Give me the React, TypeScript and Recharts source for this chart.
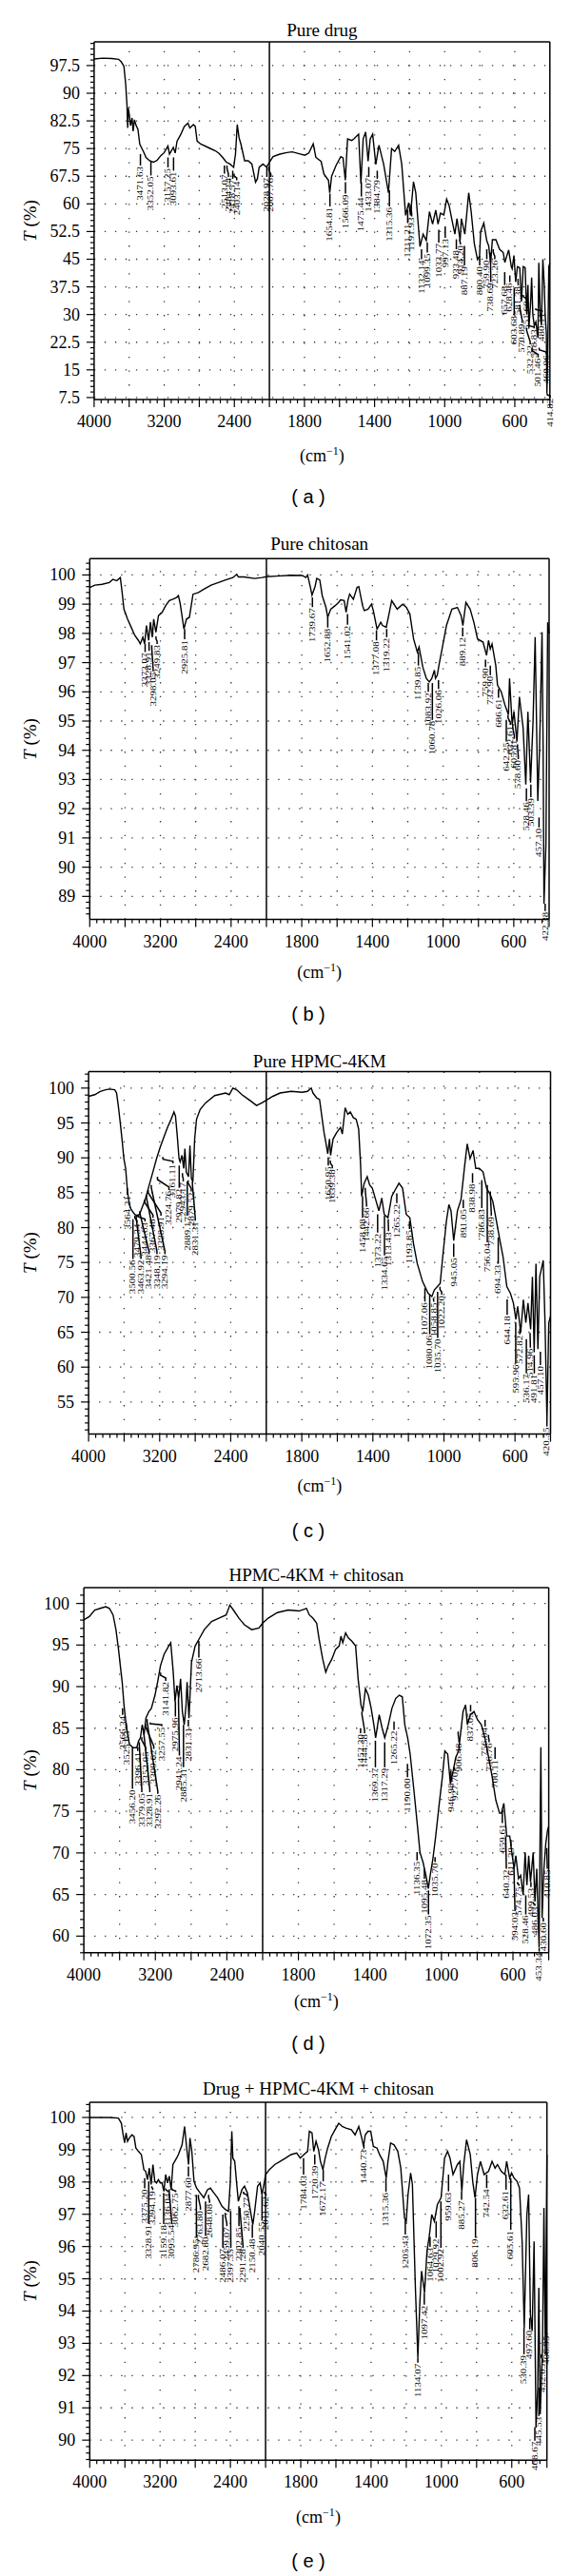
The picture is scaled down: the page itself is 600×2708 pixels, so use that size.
import React from 'react';
import { ComposedChart, Line, ReferenceLine, Scatter, XAxis, YAxis } from 'recharts';

type Pt = [number, number];
type Peak = [number, number, number];

// [wavenumber cm-1, transmittance %]
const drugSpectrum: Pt[] = [
  [4000, 99.3], [3900, 99.5], [3800, 99.4], [3720, 99.2], [3690, 98.5], [3660, 97.3], [3640, 92.5], [3625, 86.8],
  [3617, 80.6], [3610, 86], [3596, 83.7], [3585, 81.2], [3567, 83.3], [3555, 79.7], [3540, 82.8], [3520, 81.2],
  [3500, 80.2], [3479, 76.2], [3450, 74.8], [3430, 73.8], [3408, 72.6], [3367, 71.7], [3325, 71.3], [3283, 71.8],
  [3242, 73], [3200, 73.9], [3158, 75.7], [3140, 73.5], [3096, 75.3], [3075, 73.8], [3054, 77], [3012, 78.8],
  [2971, 81], [2929, 81.9], [2908, 80.6], [2867, 81.5], [2846, 81], [2825, 77], [2783, 76.2], [2700, 75.3],
  [2617, 74.4], [2575, 73.7], [2533, 72.6], [2492, 71.3], [2450, 70.8], [2408, 69.9], [2387, 73.5], [2367, 81.5],
  [2346, 77.9], [2325, 76.2], [2283, 71.7], [2242, 71.7], [2200, 70.8], [2158, 65.9], [2137, 66.8], [2117, 69.9],
  [2075, 70.8], [2033, 70], [2000, 71.3],
  [1979, 72.8], [1940, 73.5], [1900, 73.9], [1870, 74.1], [1830, 73.6], [1798, 73.2], [1775, 73.8], [1750, 76.3],
  [1735, 72.6], [1705, 71.5], [1689, 68.1], [1663, 66.4], [1656, 63], [1645, 67.5], [1620, 70.4], [1593, 72.8],
  [1580, 72.5], [1567, 66.4], [1554, 77.6], [1530, 77.2], [1518, 77.6], [1491, 78.9], [1478, 65.5], [1465, 77.6],
  [1451, 79.5], [1437, 71.6], [1425, 77.6], [1411, 78.9], [1393, 70.7], [1375, 75.9], [1348, 70.7], [1321, 63],
  [1303, 75], [1285, 74.2], [1263, 75.9], [1245, 70.7], [1223, 56.9], [1205, 60.3], [1195, 56.9], [1178, 66],
  [1165, 63], [1141, 48.4], [1123, 51.8], [1105, 50.1], [1087, 57.9], [1069, 54.5], [1051, 58.3], [1038, 54.5],
  [1024, 57.5], [1005, 57], [989, 61.3], [975, 59.6], [957, 55.3], [942, 51.8], [930, 56], [912, 50.1],
  [905, 56], [885, 51.8], [863, 63], [849, 57.9], [831, 49.2], [813, 44.9], [801, 45.9], [795, 52.5],
  [777, 54.8], [760, 50], [749, 48.6], [738, 44], [728, 50.3], [708, 50.3], [687, 47.7], [666, 46.8],
  [657, 44.1], [645, 46], [635, 47.5], [620, 43], [615, 42.4], [605, 46], [595, 38.8], [585, 43],
  [572, 42.7], [562, 33.5], [552, 43], [541, 42.7], [532, 30], [525, 38], [520, 26.4], [510, 33],
  [504, 40], [497, 30], [489, 27], [480, 28], [468, 23.7], [463, 44], [455, 30], [448, 27],
  [440, 45], [432, 38], [427, 30], [420, 25], [417, 8.6], [412, 20], [406, 43], [400, 44],
];

const chitosanSpectrum: Pt[] = [
  [4000, 99.57], [3942, 99.65], [3860, 99.68], [3778, 99.74], [3737, 99.85], [3695, 99.8], [3654, 99.91], [3633, 99.4],
  [3613, 98.83], [3572, 98.49], [3531, 98.21], [3490, 97.93], [3449, 97.76], [3428, 97.64], [3399, 97.87], [3379, 97.64],
  [3358, 98.27], [3333, 97.76], [3313, 98.38], [3292, 97.87], [3276, 98.49], [3251, 98.04], [3222, 98.61], [3181, 98.72],
  [3140, 98.95], [3099, 99.12], [3058, 99.17], [3017, 99.23], [2996, 99.29], [2975, 99.0], [2934, 98.15], [2905, 98.49],
  [2872, 98.55], [2831, 99.34], [2770, 99.4], [2708, 99.51], [2626, 99.65], [2543, 99.74], [2461, 99.83], [2379, 99.91],
  [2337, 100.02], [2316, 99.93], [2255, 99.93], [2132, 99.88], [2049, 99.91], [2000, 99.94],
  [1942, 99.96], [1859, 99.99], [1797, 99.98], [1777, 99.91], [1767, 100.0], [1752, 99.6], [1742, 99.31], [1725, 99.6],
  [1715, 99.88], [1698, 99.83], [1684, 99.29], [1663, 98.89], [1653, 98.55], [1636, 98.83], [1611, 98.95], [1591, 99.06],
  [1580, 99.15], [1560, 99.12], [1549, 98.72], [1539, 99.12], [1529, 99.34], [1508, 99.17], [1487, 99.57], [1477, 99.6],
  [1456, 98.95], [1446, 98.78], [1425, 98.83], [1405, 99.0], [1395, 98.78], [1374, 98.15], [1353, 98.38], [1343, 98.27],
  [1322, 98.21], [1312, 98.49], [1291, 99.12], [1260, 98.83], [1229, 99.0], [1208, 98.89], [1188, 98.66], [1167, 97.81],
  [1146, 97.36], [1136, 97.53], [1115, 96.85], [1095, 96.46], [1078, 96.34], [1064, 96.46], [1049, 96.74], [1043, 96.46],
  [1033, 96.57], [1022, 96.96], [1002, 97.59], [981, 98.27], [950, 98.83], [919, 98.89], [898, 98.61], [888, 98.27],
  [871, 99.06], [847, 98.83], [826, 98.38], [805, 97.81], [774, 97.7], [754, 97.25], [743, 97.76], [733, 97.47],
  [723, 97.64], [702, 96.91], [692, 96.23], [671, 96.0], [650, 95.55], [630, 95.21], [624, 96.46], [609, 94.87],
  [599, 95.32], [582, 94.3], [568, 95.83], [547, 94.76], [532, 92.83], [520, 95.32], [505, 92.89], [491, 94.98],
  [479, 97.87], [464, 92.27], [454, 94.08], [440, 98.04], [434, 94.19], [429, 88.75], [418, 90.79], [408, 98.38],
  [400, 98.0],
];

const hpmcSpectrum: Pt[] = [
  [4000, 98.82], [3930, 99.06], [3869, 99.53], [3808, 99.76], [3767, 99.86], [3706, 99.76], [3685, 99.29], [3665, 97.41],
  [3644, 95.06], [3624, 92.71], [3603, 89.89], [3583, 88.48], [3562, 85.18], [3542, 83.3], [3521, 82.6], [3481, 81.89],
  [3440, 81.65], [3420, 82.13], [3399, 82.83], [3358, 84.24], [3337, 85.18], [3317, 86.12], [3276, 88.0], [3235, 89.89],
  [3194, 91.53], [3153, 92.94], [3112, 94.36], [3071, 95.53], [3039, 96.57], [3022, 96.0], [3002, 93.18], [2982, 89.89],
  [2970, 89.42], [2949, 90.36], [2929, 88.48], [2916, 91.3], [2900, 87.95], [2875, 87.3], [2859, 91.77], [2843, 87.06],
  [2826, 86.59], [2806, 92.71], [2785, 95.53], [2744, 96.94], [2683, 97.88], [2581, 98.92], [2458, 99.29], [2417, 99.06],
  [2376, 100.0], [2335, 99.76], [2274, 99.06], [2172, 98.12], [2110, 97.51], [2049, 97.88], [2000, 98.26],
  [1963, 98.82], [1922, 99.29], [1860, 99.53], [1798, 99.39], [1768, 99.53], [1747, 100.0], [1737, 99.29], [1716, 98.59],
  [1700, 98.35], [1685, 95.53], [1675, 93.65], [1665, 92.24], [1654, 90.59], [1644, 92.71], [1638, 90.36], [1624, 92.71],
  [1603, 93.65], [1582, 94.36], [1572, 93.41], [1556, 97.18], [1541, 96.24], [1527, 96.57], [1510, 95.76], [1494, 95.53],
  [1480, 94.12], [1469, 88.95], [1463, 84.48], [1449, 86.36], [1432, 87.3], [1418, 86.12], [1403, 85.65], [1387, 84.24],
  [1366, 82.4], [1350, 84.24], [1336, 81.89], [1315, 81.42], [1294, 84.48], [1274, 85.42], [1253, 86.36], [1233, 85.65],
  [1212, 81.89], [1192, 81.42], [1171, 77.66], [1150, 74.83], [1120, 72.25], [1089, 70.6], [1068, 70.13], [1054, 71.07],
  [1037, 71.54], [1021, 72.01], [1007, 75.77], [986, 80.95], [972, 83.3], [960, 82.4], [945, 78.13], [924, 82.4],
  [904, 84.01], [883, 88.95], [869, 92.0], [853, 89.89], [836, 91.06], [821, 88.48], [801, 88.48], [780, 88.0],
  [760, 85.65], [739, 84.71], [725, 83.77], [708, 81.42], [688, 78.6], [667, 75.77], [646, 71.54], [626, 70.6],
  [609, 69.19], [595, 66.84], [585, 68.72], [568, 64.95], [553, 69.66], [539, 66.37], [527, 69.19], [512, 65.42],
  [502, 72.95], [492, 62.13], [482, 74.83], [471, 62.6], [461, 72.95], [441, 75.3], [431, 66.37], [420, 52.25],
  [410, 66.37], [400, 67.31],
];

const blendSpectrum: Pt[] = [
  [4000, 98.03], [3939, 98.42], [3878, 99.21], [3816, 99.41], [3755, 99.61], [3714, 99.41], [3673, 98.62], [3641, 96.85],
  [3612, 94.48], [3592, 92.51], [3571, 90.54], [3551, 87.79], [3531, 85.82], [3510, 84.24], [3490, 83.06], [3449, 82.66],
  [3408, 82.66], [3388, 83.45], [3367, 83.85], [3347, 85.42], [3326, 84.24], [3306, 86.21], [3273, 87.0], [3245, 87.39],
  [3204, 88.97], [3175, 90.54], [3143, 92.51], [3102, 93.89], [3061, 94.68], [3028, 95.27], [3000, 91.73], [2980, 88.18],
  [2959, 90.15], [2939, 88.57], [2918, 90.94], [2898, 87.0], [2877, 85.42], [2857, 87.79], [2845, 90.54], [2824, 86.21],
  [2796, 92.91], [2755, 94.88], [2714, 95.67], [2653, 96.85], [2571, 97.83], [2490, 98.23], [2408, 98.62], [2367, 99.8],
  [2327, 99.21], [2265, 98.23], [2204, 97.44], [2122, 96.85], [2041, 97.04], [2000, 97.64],
  [1969, 98.23], [1918, 98.9], [1857, 99.21], [1796, 99.09], [1755, 99.41], [1739, 98.62], [1719, 98.23], [1698, 97.64],
  [1684, 95.67], [1664, 93.3], [1647, 91.73], [1633, 92.51], [1613, 93.3], [1592, 94.48], [1572, 94.88], [1562, 96.06],
  [1552, 95.27], [1536, 96.45], [1521, 95.86], [1501, 95.47], [1480, 94.88], [1466, 90.94], [1450, 87.79], [1440, 87.0],
  [1425, 89.76], [1409, 88.97], [1393, 87.39], [1378, 85.42], [1368, 83.85], [1348, 86.61], [1332, 85.03], [1317, 83.85],
  [1297, 85.42], [1277, 87.39], [1256, 88.57], [1236, 88.97], [1219, 88.77], [1205, 85.42], [1189, 83.85], [1175, 81.88],
  [1154, 77.54], [1134, 73.21], [1120, 70.06], [1103, 68.87], [1087, 67.3], [1073, 65.72], [1063, 67.3], [1048, 69.27],
  [1032, 72.03], [1012, 75.97], [995, 79.12], [981, 82.27], [965, 81.88], [950, 78.33], [934, 79.91], [920, 81.48],
  [904, 82.27], [879, 87.0], [865, 87.79], [855, 85.42], [838, 86.61], [818, 87.0], [798, 86.01], [777, 85.42],
  [757, 83.85], [736, 81.48], [716, 79.12], [696, 76.36], [675, 74.78], [665, 74.78], [651, 75.97], [635, 72.03],
  [618, 72.03], [604, 69.67], [594, 68.09], [584, 69.67], [569, 66.9], [557, 67.3], [543, 64.93], [532, 70.06],
  [522, 66.12], [512, 69.67], [502, 66.51], [487, 70.06], [477, 64.15], [467, 68.09], [454, 58.63], [444, 82.7],
  [437, 62.18], [427, 68.09], [416, 71.24], [406, 72.81], [400, 73.2],
];

const formulationSpectrum: Pt[] = [
  [4000, 100], [3777, 100], [3674, 99.98], [3640, 99.82], [3620, 99.46], [3603, 99.21], [3587, 99.52], [3570, 99.26],
  [3550, 99.36], [3521, 99.46], [3496, 99.41], [3475, 99.05], [3446, 98.95], [3413, 98.85], [3384, 98.38], [3364, 98.33],
  [3343, 98.07], [3322, 98.43], [3302, 97.92], [3281, 98.54], [3260, 98.02], [3240, 97.97], [3219, 98.07], [3198, 97.97],
  [3178, 97.97], [3157, 97.71], [3136, 98.23], [3116, 97.97], [3095, 98.18], [3074, 97.76], [3054, 98.54], [3012, 98.74],
  [2992, 98.85], [2950, 99.15], [2921, 99.72], [2901, 99.15], [2876, 98.54], [2860, 99.36], [2839, 98.95], [2814, 98.02],
  [2785, 97.81], [2744, 97.66], [2703, 97.51], [2661, 97.76], [2628, 97.81], [2587, 97.66], [2546, 97.51], [2496, 97.25],
  [2455, 97.14], [2422, 97.09], [2401, 98.02], [2384, 99.57], [2372, 98.74], [2351, 98.64], [2331, 98.02], [2310, 97.4],
  [2269, 97.76], [2240, 97.87], [2207, 97.66], [2165, 96.99], [2145, 96.68], [2124, 97.09], [2091, 97.87], [2062, 97.97],
  [2041, 97.61], [2012, 98.02], [2000, 98.23],
  [1979, 98.38], [1948, 98.54], [1917, 98.64], [1886, 98.74], [1855, 98.85], [1823, 98.9], [1803, 98.74], [1782, 98.85],
  [1761, 98.95], [1751, 99.57], [1736, 99.52], [1726, 98.95], [1713, 99.26], [1699, 99.0], [1688, 98.64], [1674, 98.38],
  [1661, 98.74], [1647, 99.05], [1626, 99.41], [1605, 99.62], [1584, 99.82], [1564, 99.72], [1543, 99.67], [1512, 99.62],
  [1491, 99.46], [1470, 99.72], [1453, 99.36], [1443, 99.1], [1433, 99.46], [1418, 99.57], [1402, 99.57], [1387, 99.1],
  [1366, 99.05], [1352, 98.85], [1331, 98.64], [1314, 98.12], [1304, 98.64], [1289, 99.21], [1269, 99.15], [1248, 98.95],
  [1231, 98.43], [1210, 96.89], [1200, 96.78], [1190, 97.61], [1175, 98.28], [1165, 97.92], [1148, 94.72], [1134, 92.56],
  [1123, 94.21], [1113, 95.24], [1096, 94.57], [1082, 95.86], [1069, 96.32], [1055, 96.99], [1040, 96.78], [1023, 97.3],
  [1002, 97.51], [982, 98.74], [965, 98.95], [951, 98.74], [934, 98.23], [909, 98.54], [895, 98.64], [884, 97.71],
  [873, 98.54], [857, 99.31], [836, 98.85], [822, 98.02], [809, 97.51], [795, 98.23], [778, 98.64], [757, 98.23],
  [732, 98.33], [712, 98.64], [695, 98.43], [681, 98.54], [660, 98.33], [639, 98.23], [629, 98.64], [612, 98.12],
  [601, 98.28], [587, 98.12], [570, 98.02], [556, 97.81], [541, 96.16], [529, 93.48], [514, 96.99], [504, 97.61],
  [494, 93.9], [484, 93.38], [473, 96.16], [462, 90.39], [452, 91.63], [446, 94.72], [438, 90.8], [425, 92.87],
  [417, 97.2], [409, 92.66], [400, 98.85],
];

// peak labels: [wavenumber, T where the leader starts, T where the text starts]
const drugPeaks: Peak[] = [
  [3471.63, 73.5, 70.4], [3352.05, 71.7, 67.7], [3157.25, 72.6, 69.9], [3093.61, 72.6, 69.0],
  [2513.07, 70.4, 68.2], [2484.14, 70.4, 67.3], [2418.57, 69.0, 66.8], [2403.14, 68.2, 66.4],
  [2028.97, 70.4, 67.3], [2007.76, 70.0, 67.3], [1654.81, 62.8, 59.3], [1566.09, 65.9, 62.8],
  [1475.44, 65.9, 62.0], [1433.07, 70.0, 67.3], [1384.79, 69.0, 66.8], [1315.36, 63.7, 59.3],
  [1211.21, 58.4, 54.8], [1191.93, 59.7, 56.6], [1132.14, 47.7, 45.0], [1099.35, 49.5, 46.8],
  [1033.77, 53.0, 49.5], [997.13, 53.9, 50.8], [933.48, 50.4, 47.7], [914.2, 50.4, 49.0],
  [887.19, 48.6, 43.3], [800.4, 45.9, 43.3], [759.9, 47.7, 45.0], [738.69, 46.8, 38.8],
  [723.26, 47.7, 45.0], [657.68, 41.5, 38.0], [628.46, 40.6, 38.8], [603.68, 37.1, 29.9],
  [581.38, 39.7, 37.9], [570.89, 32.6, 27.7], [551.6, 35.3, 33.9], [532.32, 26.4, 21.9],
  [518.83, 27.3, 26.4], [501.46, 21.0, 18.4], [480.11, 31.7, 30.8], [460.96, 21.0, 19.3],
  [414.82, 8.6, 8.1],
];

const chitosanPeaks: Peak[] = [
  [3373.07, 97.64, 97.36], [3328.91, 97.7, 97.4], [3298.05, 97.6, 96.7], [3249.83, 97.9, 97.64],
  [2925.81, 98.15, 97.8], [1739.67, 99.23, 98.9], [1652.88, 98.55, 98.2], [1541.02, 98.66, 98.3],
  [1377.08, 98.1, 97.76], [1319.22, 98.15, 97.87], [1139.85, 97.36, 96.9], [1083.92, 96.3, 96.0],
  [1060.78, 96.3, 95.04], [1026.06, 96.4, 96.1], [889.12, 98.2, 97.9], [759.9, 97.1, 96.85],
  [732.9, 96.9, 96.57], [686.61, 96.1, 95.8], [642.25, 95.04, 94.3], [632.61, 95.2, 94.87],
  [605.81, 94.87, 94.4], [578.6, 94.2, 93.7], [528.46, 92.7, 92.26], [503.39, 92.83, 92.4],
  [457.1, 91.7, 91.36], [422.38, 88.75, 88.5],
];

const hpmcPeaks: Peak[] = [
  [3564.21, 85.65, 84.7], [3500.56, 81.2, 75.5], [3479.34, 81.7, 80.7], [3463.92, 81.7, 75.5],
  [3444.63, 81.9, 80.9], [3421.48, 82.4, 76.2], [3367.48, 84.0, 81.4], [3348.19, 84.7, 76.2],
  [3328.91, 85.4, 81.7], [3294.19, 86.1, 76.2], [3224.76, 87.3, 85.4], [3161.11, 90.1, 89.2],
  [2979.82, 88.9, 85.7], [2943.17, 87.8, 86.6], [2889.17, 86.6, 81.7], [2879.52, 86.8, 85.2],
  [2831.31, 86.6, 81.0], [1650.95, 90.1, 88.9], [1639.38, 89.6, 88.5], [1458.08, 84.5, 81.4],
  [1442.66, 85.7, 83.0], [1373.22, 81.9, 79.3], [1334.65, 81.7, 76.0], [1313.43, 81.2, 79.5],
  [1265.22, 84.9, 83.5], [1193.85, 80.9, 79.8], [1107.06, 71.3, 69.4], [1080.06, 70.4, 64.7],
  [1058.85, 69.9, 69.4], [1035.7, 70.8, 64.2], [1022.2, 71.5, 70.4], [945.05, 77.7, 75.8],
  [891.05, 84.0, 82.8], [838.98, 87.8, 86.4], [786.83, 86.8, 82.8], [756.04, 86.1, 77.9],
  [738.69, 85.2, 81.7], [694.33, 78.6, 74.8], [644.18, 69.7, 67.5], [595.96, 66.4, 60.5],
  [572.82, 65.5, 64.7], [536.17, 64.0, 59.1], [514.96, 64.9, 62.8], [491.81, 61.7, 59.1],
  [457.1, 62.2, 60.3], [420.35, 52.3, 51.5],
];

const blendPeaks: Peak[] = [
  [3566.34, 87.4, 86.6], [3525.63, 85.6, 84.8], [3456.2, 82.7, 77.7], [3396.41, 82.7, 82.3],
  [3379.05, 83.3, 77.3], [3352.05, 83.9, 82.3], [3328.91, 84.7, 77.3], [3309.62, 85.5, 82.5],
  [3292.26, 86.1, 77.1], [3257.55, 85.7, 85.3], [3141.82, 91.7, 90.7], [2975.96, 88.2, 86.4],
  [2941.24, 88.6, 81.7], [2885.31, 85.4, 80.3], [2831.31, 86.0, 85.2], [2713.66, 95.5, 93.5],
  [1452.3, 85.0, 84.4], [1444.58, 87.0, 84.4], [1369.37, 83.5, 80.3], [1317.29, 83.3, 80.3],
  [1265.22, 85.8, 84.8], [1190.0, 80.7, 79.1], [1136.35, 70.1, 69.1], [1095.48, 68.1, 66.9],
  [1072.35, 65.5, 62.6], [1035.7, 69.5, 68.9], [946.98, 79.9, 78.5], [927.7, 80.3, 80.1],
  [906.48, 84.6, 83.3], [837.05, 87.8, 87.0], [756.04, 86.0, 85.2], [736.76, 84.2, 83.3],
  [700.11, 82.7, 81.3], [659.61, 75.2, 73.6], [640.32, 72.0, 68.1], [611.39, 71.6, 70.8],
  [594.03, 68.1, 63.0], [574.75, 66.5, 66.3], [528.46, 64.9, 62.6], [499.53, 66.5, 65.9],
  [486.03, 64.1, 63.9], [453.34, 58.6, 58.4], [430.6, 62.2, 62.0], [410.85, 70.6, 68.1],
];

const formulationPeaks: Peak[] = [
  [3375.2, 98.12, 97.8], [3328.91, 98.02, 96.7], [3294.19, 97.87, 97.77], [3159.18, 97.66, 96.7],
  [3136.04, 97.8, 97.7], [3095.54, 97.77, 96.7], [3062.75, 97.8, 97.7], [2877.6, 98.48, 98.17],
  [2786.95, 97.6, 96.27], [2763.8, 97.6, 97.14], [2682.8, 97.4, 96.33], [2648.08, 97.6, 97.35],
  [2486.07, 96.99, 95.96], [2459.07, 97.04, 96.63], [2397.35, 97.1, 95.96], [2302.85, 97.25, 96.63],
  [2291.28, 97.2, 95.96], [2250.77, 97.7, 97.55], [2150.48, 96.68, 96.27], [2040.55, 97.6, 96.8],
  [2011.62, 97.7, 97.65], [1784.03, 98.74, 98.23], [1720.39, 98.85, 98.54], [1672.17, 98.38, 98.02],
  [1440.73, 99.15, 99.1], [1315.36, 98.12, 97.7], [1205.43, 96.83, 96.37], [1134.07, 92.56, 92.4],
  [1097.42, 94.57, 94.2], [1064.63, 96.3, 95.99], [1029.92, 96.78, 96.27], [1002.92, 97.4, 95.96],
  [959.63, 98.23, 97.71], [885.27, 97.71, 97.45], [806.19, 97.5, 96.27], [742.54, 98.23, 97.81],
  [632.61, 98.23, 97.76], [605.61, 98.12, 96.52], [530.39, 93.48, 92.66], [497.6, 93.79, 93.43],
  [468.67, 90.4, 89.98], [445.53, 91.63, 90.75], [432.05, 92.66, 92.4], [406.95, 93.38, 93.28],
];

const xTickLabels = [4000, 3200, 2400, 1800, 1400, 1000, 600];
const drugYTicks = [7.5, 15, 22.5, 30, 37.5, 45, 52.5, 60, 67.5, 75, 82.5, 90, 97.5];
const chitosanYTicks = [89, 90, 91, 92, 93, 94, 95, 96, 97, 98, 99, 100];
const hpmcYTicks = [55, 60, 65, 70, 75, 80, 85, 90, 95, 100];
const blendYTicks = [60, 65, 70, 75, 80, 85, 90, 95, 100];
const formulationYTicks = [90, 91, 92, 93, 94, 95, 96, 97, 98, 99, 100];

const SERIF = "'Liberation Serif', 'Times New Roman', serif";
const SANS = "'Liberation Sans', Arial, sans-serif";
const Y_AXIS_W = 70;
const X_AXIS_H = 40;
const U_MAX = 2600;
const LABEL_GAP = 4.2;

// split axis: 4000-2000 drawn at half the scale of 2000-400
const toU = (w: number) => (w >= 2000 ? (4000 - w) / 2 : 1000 + (2000 - w));

const stepsBetween = (lo: number, hi: number, step: number) => {
  const out: number[] = [];
  for (let k = Math.ceil(lo / step - 1e-9); k * step <= hi + 1e-9; k++) out.push(Math.round(k * step * 1000) / 1000);
  return out;
};

const near = (a: number, b: number) => Math.abs(a - b) < 1e-6;

interface PanelSpec {
  title: string;
  tag: string;
  spectrum: Pt[];
  peaks: Peak[];
  yTicks: number[];
  minorStep: number;
  domain: [number, number];
  top: number;
  height: number;
  box: { left: number; right: number; top: number; bottom: number };
  titleY: number;
  unitY: number;
  tagY: number;
}

const panels: PanelSpec[] = [
  {
    title: 'Pure drug', tag: '( a )', spectrum: drugSpectrum, peaks: drugPeaks, yTicks: drugYTicks, minorStep: 1.5,
    domain: [6.96, 103.9], top: 0, height: 540, box: { left: 98.9, right: 577.8, top: 44.1, bottom: 420 },
    titleY: 31, unitY: 478, tagY: 522,
  },
  {
    title: 'Pure chitosan', tag: '( b )', spectrum: chitosanSpectrum, peaks: chitosanPeaks, yTicks: chitosanYTicks, minorStep: 0.2,
    domain: [88.21, 100.56], top: 540, height: 540, box: { left: 94.3, right: 577, top: 47.2, bottom: 426.6 },
    titleY: 31, unitY: 481, tagY: 526,
  },
  {
    title: 'Pure HPMC-4KM', tag: '( c )', spectrum: hpmcSpectrum, peaks: hpmcPeaks, yTicks: hpmcYTicks, minorStep: 1,
    domain: [50.4, 102.35], top: 1080, height: 540, box: { left: 93.1, right: 578.5, top: 46.6, bottom: 427.6 },
    titleY: 34.5, unitY: 481, tagY: 529,
  },
  {
    title: 'HPMC-4KM + chitosan', tag: '( d )', spectrum: blendSpectrum, peaks: blendPeaks, yTicks: blendYTicks, minorStep: 1,
    domain: [58.0, 101.9], top: 1620, height: 540, box: { left: 88.1, right: 576.6, top: 49, bottom: 432.8 },
    titleY: 34.5, unitY: 483, tagY: 528,
  },
  {
    title: 'Drug + HPMC-4KM + chitosan', tag: '( e )', spectrum: formulationSpectrum, peaks: formulationPeaks,
    yTicks: formulationYTicks, minorStep: 0.2, domain: [89.38, 100.47], top: 2160, height: 548,
    box: { left: 94.3, right: 574.7, top: 50, bottom: 426.2 }, titleY: 35, unitY: 485, tagY: 532,
  },
];

const xMinorTicks = stepsBetween(0, U_MAX, 40);
const xLabelByU = new Map(xTickLabels.map((w) => [toU(w), String(w)]));
const gridU = stepsBetween(200, 2400, 200).filter((u) => u !== 1000);

const XTick = (props: any) => {
  const { x, y, payload } = props;
  const u = payload.value as number;
  const major = near(u / 200, Math.round(u / 200));
  const label = xLabelByU.get(u);
  return (
    <g>
      <line x1={x} x2={x} y1={y} y2={y + (major ? 8 : 4)} stroke="#000" strokeWidth={1.2} />
      {label && (
        <text x={x} y={y + 29} textAnchor="middle" fontSize={18} fontFamily={SERIF} fill="#000">
          {label}
        </text>
      )}
    </g>
  );
};

const makeYTick = (majors: number[]) => (props: any) => {
  const { x, y, payload } = props;
  const v = payload.value as number;
  const major = majors.some((m) => near(m, v));
  return (
    <g>
      <line x1={x - (major ? 8 : 4)} x2={x} y1={y} y2={y} stroke="#000" strokeWidth={1.2} />
      {major && (
        <text x={x - 15} y={y + 6} textAnchor="end" fontSize={18} fontFamily={SERIF} fill="#000">
          {String(v)}
        </text>
      )}
    </g>
  );
};

const makePeakShape = (pxPerT: number) => (props: any) => {
  const { cx, cy, payload } = props;
  if (cx == null || cy == null) return <g />;
  const tx = cx + payload.shift;
  const ty = Math.max(cy + 4, cy + (payload.t - payload.t2) * pxPerT);
  const bend = Math.min(3, (ty - cy) / 3);
  return (
    <g>
      <polyline
        points={`${cx},${cy} ${cx},${cy + bend} ${tx},${ty - bend} ${tx},${ty}`}
        fill="none"
        stroke="#000"
        strokeWidth={1.5}
      />
      <text
        transform={`translate(${tx},${ty + 1}) rotate(-90) scale(1,0.72)`}
        textAnchor="end"
        dy="0.35em"
        fontSize={11}
        fontFamily={SERIF}
        fill="#000"
      >
        {payload.text}
      </text>
    </g>
  );
};

const SpectrumPanel = ({ spec }: { spec: PanelSpec }) => {
  const { box, domain, height } = spec;
  const plotW = box.right - box.left;
  const pxPerU = plotW / U_MAX;
  const pxPerT = (box.bottom - box.top) / (domain[1] - domain[0]);
  const points = spec.spectrum.map(([w, t]) => ({ u: toU(w), t }));

  let lastX = -Infinity;
  const peakPoints = spec.peaks
    .map(([w, t1, t2]) => ({ u: toU(w), t: t1, t2, text: w.toFixed(2) }))
    .sort((a, b) => a.u - b.u)
    .map((p) => {
      const x = Math.max(p.u * pxPerU, lastX + LABEL_GAP);
      lastX = x;
      return { ...p, shift: x - p.u * pxPerU };
    });

  const yTicks = stepsBetween(domain[0], domain[1], spec.minorStep);
  const plotCenter = (box.left + box.right) / 2;
  const textBase: React.CSSProperties = { position: 'absolute', whiteSpace: 'nowrap', color: '#000', lineHeight: 1 };

  return (
    <div style={{ position: 'absolute', left: 0, top: spec.top, width: 600, height }}>
      <div style={{ ...textBase, left: plotCenter, top: spec.titleY, transform: 'translate(-50%,-50%)', fontFamily: SERIF, fontSize: 19 }}>
        {spec.title}
      </div>
      <ComposedChart
        width={600}
        height={height}
        margin={{ top: box.top, right: 600 - box.right, bottom: height - box.bottom - X_AXIS_H, left: box.left - Y_AXIS_W }}
      >
        <XAxis
          type="number"
          dataKey="u"
          domain={[0, U_MAX]}
          ticks={xMinorTicks}
          interval={0}
          tickSize={0}
          tickMargin={0}
          tickLine={false}
          tick={XTick}
          height={X_AXIS_H}
          axisLine={{ stroke: '#000', strokeWidth: 1.5 }}
        />
        <YAxis
          type="number"
          dataKey="t"
          domain={domain}
          ticks={yTicks}
          interval={0}
          tickSize={0}
          tickMargin={0}
          tickLine={false}
          tick={makeYTick(spec.yTicks)}
          width={Y_AXIS_W}
          axisLine={{ stroke: '#000', strokeWidth: 1.5 }}
        />
        {spec.yTicks.map((v) => (
          <ReferenceLine key={`h${v}`} y={v} stroke="#333" strokeWidth={1.3} strokeDasharray="1.3 9.7" ifOverflow="visible" />
        ))}
        {gridU.map((u) => (
          <ReferenceLine key={`v${u}`} x={u} stroke="#333" strokeWidth={1.3} strokeDasharray="1.3 13.3" ifOverflow="visible" />
        ))}
        <ReferenceLine x={1000} stroke="#000" strokeWidth={1.5} ifOverflow="visible" />
        <ReferenceLine x={U_MAX} stroke="#000" strokeWidth={1.5} ifOverflow="visible" />
        <ReferenceLine y={domain[1]} stroke="#000" strokeWidth={1.5} ifOverflow="visible" />
        <Line
          data={points}
          dataKey="t"
          type="linear"
          stroke="#000"
          strokeWidth={1.4}
          dot={false}
          activeDot={false}
          isAnimationActive={false}
        />
        <Scatter data={peakPoints} dataKey="t" shape={makePeakShape(pxPerT)} isAnimationActive={false} />
      </ComposedChart>
      <div
        style={{
          ...textBase,
          left: 30.7,
          top: (box.top + box.bottom) / 2,
          transform: 'translate(-50%,-50%) rotate(-90deg)',
          fontFamily: SERIF,
          fontSize: 19,
        }}
      >
        <i>T</i> (%)
      </div>
      <div style={{ ...textBase, left: plotCenter, top: spec.unitY, transform: 'translate(-50%,-50%)', fontFamily: SERIF, fontSize: 18 }}>
        (cm<sup style={{ fontSize: 12 }}>−1</sup>)
      </div>
      <div style={{ ...textBase, left: 324, top: spec.tagY, transform: 'translate(-50%,-50%)', fontFamily: SANS, fontSize: 20 }}>
        {spec.tag}
      </div>
    </div>
  );
};

export default function App() {
  return (
    <div style={{ position: 'absolute', left: 0, top: 0, width: 600, height: 2708, background: '#fff' }}>
      {panels.map((spec) => (
        <SpectrumPanel key={spec.tag} spec={spec} />
      ))}
    </div>
  );
}
